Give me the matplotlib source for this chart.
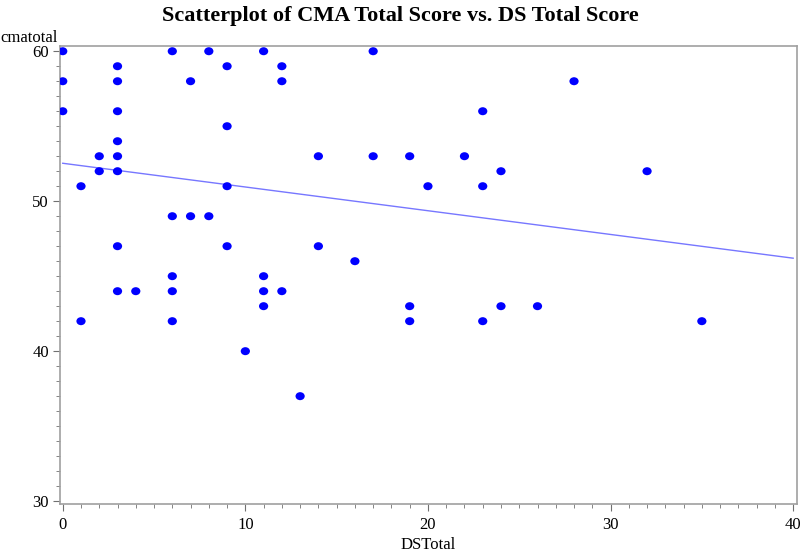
import numpy as np
import matplotlib
matplotlib.use("Agg")
import matplotlib.pyplot as plt
from matplotlib.ticker import MultipleLocator
from matplotlib.path import Path
from matplotlib.transforms import Affine2D

# values
ds_total = [0, 0, 0, 1, 1, 2, 2, 3, 3, 3, 3, 3, 3, 3, 3, 4,
            6, 6, 6, 6, 6, 7, 7, 8, 8, 9, 9, 9, 9, 10,
            11, 11, 11, 11, 12, 12, 12, 13, 14, 14, 16, 17, 17,
            19, 19, 19, 20, 22, 23, 23, 23, 24, 24, 26, 28, 32, 35]
cma_total = [60, 58, 56, 51, 42, 53, 52, 59, 58, 56, 54, 53, 52, 47, 44, 44,
             60, 49, 45, 44, 42, 58, 49, 60, 49, 59, 55, 51, 47, 40,
             60, 45, 44, 43, 59, 58, 44, 37, 53, 47, 46, 60, 53,
             53, 43, 42, 51, 53, 56, 51, 42, 52, 43, 43, 58, 52, 42]

# regression line as drawn in the reference
fit_x = [0, 40]
fit_y = [52.53, 46.2]

plt.rcParams['font.family'] = ['Liberation Serif', 'DejaVu Serif']

fig = plt.figure(figsize=(8, 5.54), dpi=100)
ax = fig.add_axes([0.075, 0.090, 0.921, 0.827])

# slightly wide dots, like the SAS output
dot = Path.unit_circle().transformed(Affine2D().scale(1.15, 1.0))
ax.scatter(ds_total, cma_total, s=44, marker=dot, color='#0000ff',
           edgecolors='none', zorder=3)

ax.plot(fit_x, fit_y, color='#7777ff', lw=1, zorder=2)

ax.set_xlim(-0.15, 40.2)
ax.set_ylim(29.8, 60.35)
ax.xaxis.set_major_locator(MultipleLocator(10))
ax.xaxis.set_minor_locator(MultipleLocator(1))
ax.yaxis.set_major_locator(MultipleLocator(10))
ax.yaxis.set_minor_locator(MultipleLocator(1))

for s in ax.spines.values():
    s.set_color('#a0a0a0')
    s.set_linewidth(1.2)
ax.tick_params(which='major', length=5, color='#707070', labelsize=12, pad=3)
ax.tick_params(which='minor', length=3, color='#707070')
ax.tick_params(axis='x', pad=4)

ax.set_xlabel('DSTotal', fontsize=12, labelpad=3)
fig.text(0.0, 0.932, 'cmatotal', fontsize=12, ha='left', va='center')
fig.suptitle('Scatterplot of CMA Total Score vs. DS Total Score',
             fontsize=16, fontweight='bold', y=0.99)

fig.savefig('out.png', dpi=100)
